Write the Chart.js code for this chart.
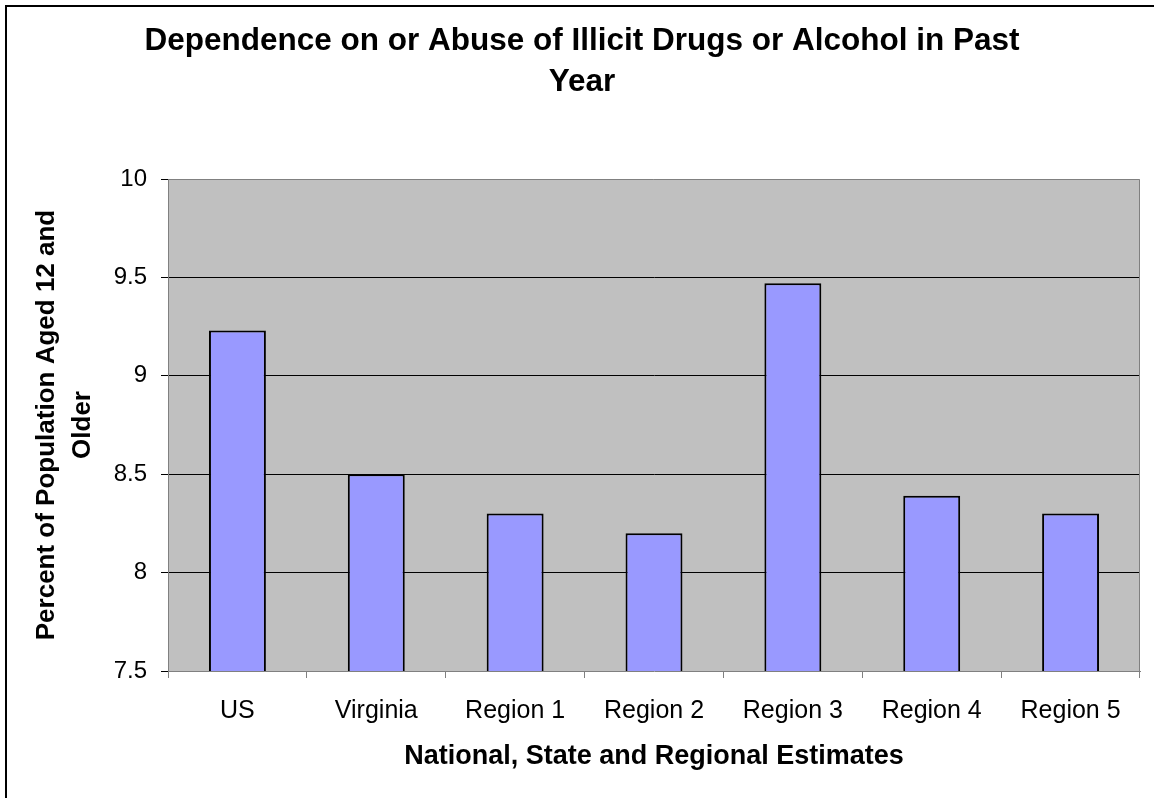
<!DOCTYPE html>
<html>
<head>
<meta charset="utf-8">
<title>Dependence on or Abuse of Illicit Drugs or Alcohol in Past Year</title>
<script src="https://cdn.jsdelivr.net/npm/chart.js@4/dist/chart.umd.min.js"></script>
<style>
  html, body { margin: 0; padding: 0; background: #ffffff; }
  canvas { display: block; }
</style>
</head>
<body>
<canvas id="chart" width="1154" height="798"></canvas>
<script>
// Categories and values (percent of population aged 12 and older)
const categories = ['US', 'Virginia', 'Region 1', 'Region 2', 'Region 3', 'Region 4', 'Region 5'];
const percentValues = [9.23, 8.5, 8.3, 8.2, 9.47, 8.39, 8.3];
const yTickLabels = ['7.5', '8', '8.5', '9', '9.5', '10'];

const titleLines = ['Dependence on or Abuse of Illicit Drugs or Alcohol in Past', 'Year'];
const yTitleLines = ['Percent of Population Aged 12 and', 'Older'];
const xTitle = 'National, State and Regional Estimates';

const FONT = '"Liberation Sans", Arial, Helvetica, sans-serif';

// Grey plot background with a grey frame, plus the outer chart frame
const framePlugin = {
  id: 'frames',
  beforeDraw(chart) {
    const { ctx, chartArea: a } = chart;
    ctx.save();
    ctx.fillStyle = '#c0c0c0';
    ctx.fillRect(a.left, a.top, a.right - a.left, a.bottom - a.top);
    ctx.restore();
  },
  afterDraw(chart) {
    const { ctx, chartArea: a } = chart;
    ctx.save();
    ctx.strokeStyle = '#808080';
    ctx.lineWidth = 1;
    ctx.beginPath();
    ctx.moveTo(a.left, a.top + 0.5);
    ctx.lineTo(a.right - 0.5, a.top + 0.5);
    ctx.lineTo(a.right - 0.5, a.bottom);
    ctx.stroke();
    ctx.strokeStyle = '#000000';
    ctx.lineWidth = 2;
    ctx.strokeRect(6, 6, 1400, 1000);
    ctx.restore();
  }
};

new Chart(document.getElementById('chart'), {
  type: 'bar',
  data: {
    labels: categories,
    datasets: [{
      data: percentValues,
      backgroundColor: '#9999ff',
      borderColor: '#000000',
      borderWidth: 2,
      borderSkipped: false,
      barPercentage: 0.41,
      categoryPercentage: 1.0
    }]
  },
  options: {
    responsive: false,
    animation: false,
    devicePixelRatio: 1,
    layout: { padding: { left: 24, right: 14, top: 0, bottom: 0 } },
    plugins: {
      legend: { display: false },
      tooltip: { enabled: false },
      title: {
        display: true,
        text: titleLines,
        color: '#000000',
        font: { family: FONT, size: 31.5, weight: 'bold', lineHeight: '41px' },
        padding: { top: 21, bottom: 76 }
      }
    },
    scales: {
      x: {
        grid: {
          offset: true,
          drawOnChartArea: false,
          tickLength: 7,
          tickColor: '#808080'
        },
        border: { display: true, color: '#808080', width: 1 },
        ticks: {
          color: '#000000',
          font: { family: FONT, size: 25 },
          padding: 18,
          maxRotation: 0,
          autoSkip: false
        },
        title: {
          display: true,
          text: xTitle,
          color: '#000000',
          font: { family: FONT, size: 27, weight: 'bold', lineHeight: 1.2 },
          padding: { top: 0, bottom: 25 }
        },
        afterFit(scale) { scale.height = 127; }
      },
      y: {
        min: 7.5,
        max: 10,
        grid: {
          color: (c) => (c.tick && (c.tick.value === 10 || c.tick.value === 7.5)) ? 'rgba(0,0,0,0)' : '#000000',
          tickColor: '#000000',
          tickLength: 7,
          lineWidth: 1
        },
        border: { display: true, color: '#808080', width: 1 },
        ticks: {
          stepSize: 0.5,
          color: '#000000',
          font: { family: FONT, size: 24 },
          padding: 14,
          callback: (value, index) => yTickLabels[index]
        },
        title: {
          display: true,
          text: yTitleLines,
          color: '#000000',
          font: { family: FONT, size: 26, weight: 'bold', lineHeight: '36px' },
          padding: { top: 5, bottom: 0 }
        },
        afterFit(scale) { scale.width = 144; }
      }
    }
  },
  plugins: [framePlugin]
});
</script>
</body>
</html>
